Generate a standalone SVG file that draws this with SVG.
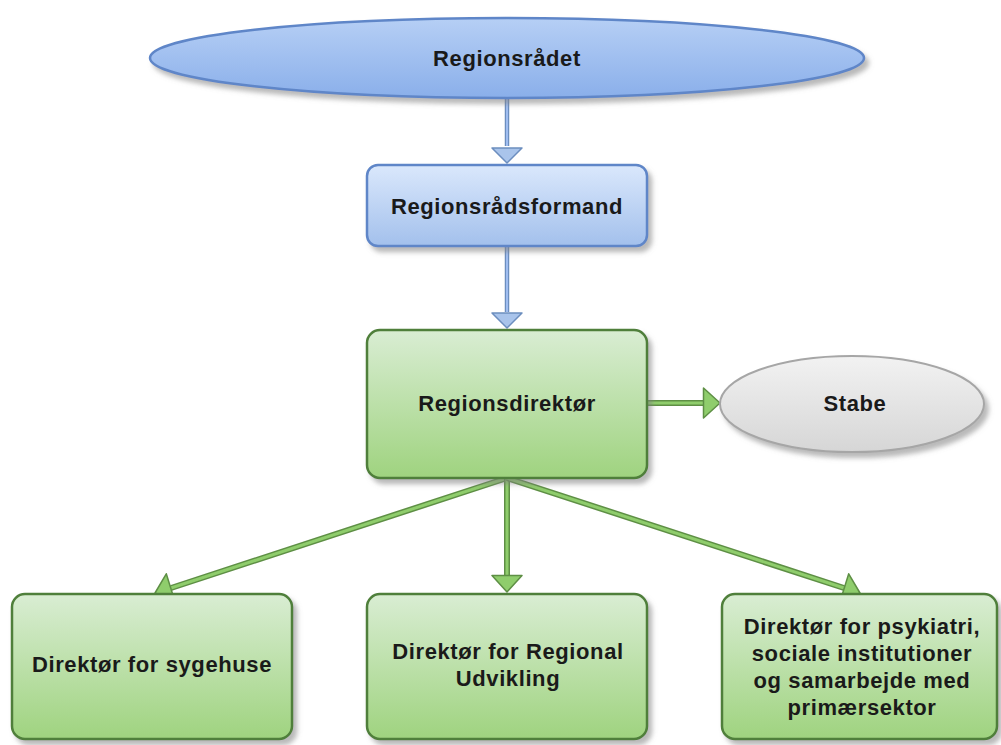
<svg xmlns="http://www.w3.org/2000/svg" width="1001" height="745" viewBox="0 0 1001 745">
<defs>
<linearGradient id="gBlue" x1="0" y1="0" x2="0" y2="1"><stop offset="0" stop-color="#dae8fc"/><stop offset="1" stop-color="#a3c0ec"/></linearGradient>
<linearGradient id="gBlueE" x1="0" y1="0" x2="0" y2="1"><stop offset="0" stop-color="#b6cff5"/><stop offset="1" stop-color="#8aafea"/></linearGradient>
<linearGradient id="gGreen" x1="0" y1="0" x2="0" y2="1"><stop offset="0" stop-color="#d9edd3"/><stop offset="1" stop-color="#9fd37f"/></linearGradient>
<linearGradient id="gGrey" x1="0" y1="0" x2="0" y2="1"><stop offset="0" stop-color="#f2f2f2"/><stop offset="1" stop-color="#d6d6d6"/></linearGradient>
<filter id="sh" x="-10%" y="-10%" width="125%" height="130%"><feDropShadow dx="4" dy="5" stdDeviation="2.5" flood-color="#808080" flood-opacity="0.55"/></filter>
<marker id="aBlue" markerUnits="userSpaceOnUse" viewBox="0 0 18 33" refX="16.5" refY="16.5" markerWidth="18" markerHeight="33" orient="auto"><path d="M1.5,1.5 L16.5,16.5 L1.5,31.5 Z" fill="#a9c4eb" stroke="#6c8ebf" stroke-width="1.5" stroke-linejoin="round"/></marker>
<marker id="aGreen" markerUnits="userSpaceOnUse" viewBox="0 0 20 33" refX="18" refY="16.5" markerWidth="20" markerHeight="33" orient="auto"><path d="M1.5,1.5 L18,16.5 L1.5,31.5 Z" fill="#8fcd6c" stroke="#5e8f45" stroke-width="1.5" stroke-linejoin="round"/></marker>
</defs>
<style>
.t{font-family:"Liberation Sans",Arial,sans-serif;font-weight:bold;font-size:22px;letter-spacing:0.6px;fill:#1a1a1a;text-anchor:middle}
.bo{stroke:#6c8ebf;stroke-width:4.5;fill:none}
.bi{stroke:#9fbdf0;stroke-width:2;fill:none}
.go{stroke:#5e8f45;stroke-width:6;fill:none}
.gi{stroke:#8fcd6c;stroke-width:3;fill:none}
.blue{fill:url(#gBlue);stroke:#5f86c8;stroke-width:2.5}
.green{fill:url(#gGreen);stroke:#4f7f3a;stroke-width:2.5}
.grey{fill:url(#gGrey);stroke:#a6a6a6;stroke-width:2}
</style>
<rect width="1001" height="745" fill="#ffffff"/>
<g id="connectors">
<path class="bo" d="M507,98 V146"/><path class="bi" d="M507,98 V146"/>
<path d="M507,146 V163" stroke="none" fill="none" marker-end="url(#aBlue)"/>
<path class="bo" d="M507,246 V312"/><path class="bi" d="M507,246 V312"/>
<path d="M507,311 V328" stroke="none" fill="none" marker-end="url(#aBlue)"/>
<path class="go" d="M648,403 H704"/><path class="gi" d="M648,403 H704"/>
<path d="M703,403 H720" stroke="none" fill="none" marker-end="url(#aGreen)"/>
<path class="go" d="M507,478 L171,588"/><path class="gi" d="M507,478 L171,588"/>
<path d="M172,587.7 L155,593" stroke="none" fill="none" marker-end="url(#aGreen)"/>
<path class="go" d="M507,478 V576"/><path class="gi" d="M507,478 V576"/>
<path d="M507,575 V592" stroke="none" fill="none" marker-end="url(#aGreen)"/>
<path class="go" d="M507,478 L844,588"/><path class="gi" d="M507,478 L844,588"/>
<path d="M843,587.7 L860,593" stroke="none" fill="none" marker-end="url(#aGreen)"/>
</g>
<g id="regionsraadet">
<ellipse cx="507" cy="58" rx="357" ry="40" fill="url(#gBlueE)" stroke="#5f86c8" stroke-width="2.5" filter="url(#sh)"/>
<text class="t" x="507" y="66">Regionsrådet</text>
</g>
<g id="regionsraadsformand">
<rect x="367" y="165" width="280" height="81" rx="11" class="blue" filter="url(#sh)"/>
<text class="t" x="507" y="214">Regionsrådsformand</text>
</g>
<g id="regionsdirektoer">
<rect x="367" y="330" width="280" height="148" rx="13" class="green" filter="url(#sh)"/>
<text class="t" x="507" y="411">Regionsdirektør</text>
</g>
<g id="stabe">
<ellipse cx="852" cy="404" rx="132" ry="48" class="grey" filter="url(#sh)"/>
<text class="t" x="855" y="411">Stabe</text>
</g>
<g id="sygehuse">
<rect x="12" y="594" width="280" height="145" rx="13" class="green" filter="url(#sh)"/>
<text class="t" x="152" y="672">Direktør for sygehuse</text>
</g>
<g id="regional">
<rect x="367" y="594" width="280" height="145" rx="13" class="green" filter="url(#sh)"/>
<text class="t" x="508" y="659">Direktør for Regional</text>
<text class="t" x="508" y="686">Udvikling</text>
</g>
<g id="psykiatri">
<rect x="722" y="594" width="275" height="145" rx="13" class="green" filter="url(#sh)"/>
<text class="t" x="862" y="634">Direktør for psykiatri,</text>
<text class="t" x="862" y="661">sociale institutioner</text>
<text class="t" x="862" y="688">og samarbejde med</text>
<text class="t" x="862" y="715">primærsektor</text>
</g>
</svg>
